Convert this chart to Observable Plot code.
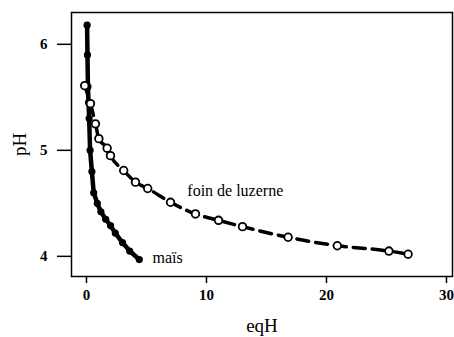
<!DOCTYPE html>
<html>
<head>
<meta charset="utf-8">
<script src="https://cdn.jsdelivr.net/npm/d3@7"></script>
<script src="https://cdn.jsdelivr.net/npm/@observablehq/plot@0.6"></script>
<style>
  body { margin: 0; background: #fff; }
  svg { font-family: "Liberation Serif", serif; }
</style>
</head>
<body>
<div id="chart"></div>
<script>
const maisEqH = [0.05, 0.08, 0.12, 0.17, 0.22, 0.3, 0.45, 0.6, 0.9, 1.2, 1.6, 2.0, 2.4, 3.0, 3.6, 4.4];
const maisPH  = [6.18, 5.9, 5.6, 5.45, 5.3, 5.0, 4.8, 4.6, 4.5, 4.42, 4.35, 4.29, 4.22, 4.13, 4.05, 3.97];
const foinEqH = [-0.15, 0.33, 0.75, 1.03, 1.72, 2.0, 3.1, 4.08, 5.1, 7.0, 9.08, 11.0, 13.0, 16.8, 20.9, 25.2, 26.8];
const foinPH  = [5.61, 5.44, 5.25, 5.11, 5.02, 4.95, 4.81, 4.70, 4.64, 4.51, 4.40, 4.34, 4.28, 4.18, 4.10, 4.05, 4.02];
const xTicks = [0, 10, 20, 30];
const yTicks = [4, 5, 6];
const seriesLabels = ["foin de luzerne", "maïs"];
const labelEqH = [8.4, 5.5];
const labelPH = [4.62, 3.99];

const mais = maisEqH.map((x, i) => ({x, y: maisPH[i]}));
const foin = foinEqH.map((x, i) => ({x, y: foinPH[i]}));
const labels = seriesLabels.map((t, i) => ({t, x: labelEqH[i], y: labelPH[i]}));

const chart = Plot.plot({
  width: 454,
  height: 337,
  marginLeft: 71,
  marginRight: 2,
  marginTop: 12,
  marginBottom: 61,
  style: {fontFamily: "Liberation Serif, serif", background: "#fff"},
  x: {domain: [-1.25, 30.5]},
  y: {domain: [3.81, 6.30]},
  marks: [
    Plot.frame({stroke: "#000", strokeWidth: 1.5}),
    Plot.axisX({ticks: xTicks, tickFormat: "d", tickSize: 7, tickPadding: 6, fontSize: 15, fontWeight: "bold",
      label: "eqH", labelAnchor: "center", labelOffset: 55, labelArrow: "none", strokeWidth: 1.5}),
    Plot.axisY({ticks: yTicks, tickFormat: "d", tickSize: 14, tickPadding: 10, fontSize: 15, fontWeight: "bold",
      label: "pH", labelAnchor: "center", labelOffset: 59, labelArrow: "none", strokeWidth: 1.5}),
    Plot.line(foin, {x: "x", y: "y", stroke: "#000", strokeWidth: 3.5, strokeDasharray: "12,7", curve: "monotone-x"}),
    Plot.line(mais, {x: "x", y: "y", stroke: "#000", strokeWidth: 4.5}),
    Plot.dot(mais, {x: "x", y: "y", r: 3.6, fill: "#000"}),
    Plot.dot(foin, {x: "x", y: "y", r: 3.8, fill: "#fff", stroke: "#000", strokeWidth: 1.8}),
    Plot.text(labels, {x: "x", y: "y", text: "t", textAnchor: "start", fontSize: 16, fill: "#000"})
  ]
});
chart.querySelectorAll("[aria-label='x-axis label'], [aria-label='y-axis label']").forEach(g => {
  g.setAttribute("font-weight", "normal");
  g.setAttribute("font-size", 19);
  g.querySelectorAll("text").forEach(t => { t.setAttribute("font-size", 19); t.setAttribute("font-weight", "normal"); });
});
document.getElementById("chart").appendChild(chart);
</script>
</body>
</html>
